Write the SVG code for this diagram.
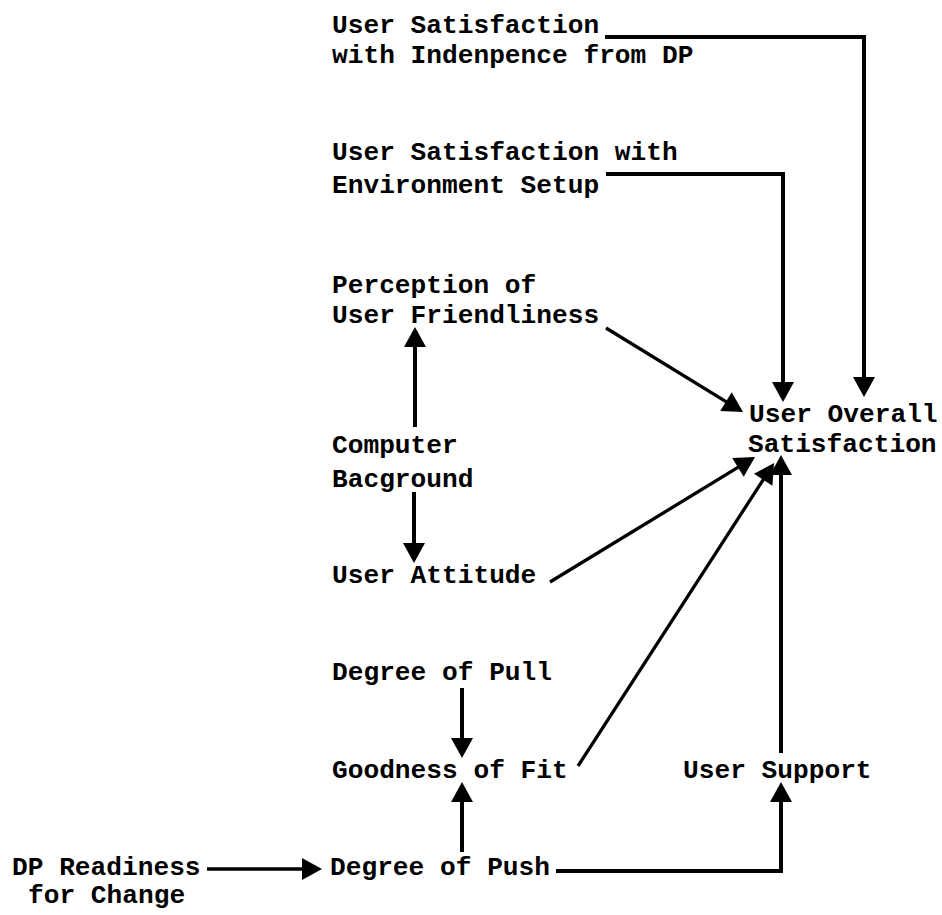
<svg xmlns="http://www.w3.org/2000/svg" width="942" height="915" viewBox="0 0 942 915">
<style>
text{font-family:"Liberation Mono","Courier New",monospace;font-weight:bold;font-size:26.2px;fill:#000}
.c{fill:none;stroke:#000;stroke-width:4;stroke-linejoin:miter}
.t{stroke-width:3.3}
</style>
<defs>
<marker id="ah" markerUnits="userSpaceOnUse" markerWidth="24" markerHeight="24" viewBox="0 0 22 24" refX="12" refY="11" orient="auto">
<path d="M0,0 L20,11 L0,22 z" fill="#000"/>
</marker>
</defs>
<rect width="942" height="915" fill="#fff"/>
<g id="connectors">
<polyline class="c" points="605,37 864,37 864,389" marker-end="url(#ah)"/>
<polyline class="c" points="606,174 783,174 783,394" marker-end="url(#ah)"/>
<line class="c t" x1="606" y1="328" x2="736.2" y2="407.8" marker-end="url(#ah)"/>
<line class="c" x1="415" y1="427" x2="415" y2="335" marker-end="url(#ah)"/>
<line class="c" x1="414" y1="492" x2="414" y2="555" marker-end="url(#ah)"/>
<line class="c t" x1="550" y1="582" x2="748.2" y2="461.2" marker-end="url(#ah)"/>
<line class="c" x1="462" y1="688" x2="462" y2="750" marker-end="url(#ah)"/>
<line class="c" x1="462" y1="852" x2="462" y2="790" marker-end="url(#ah)"/>
<line class="c t" x1="578" y1="766" x2="769.7" y2="469.7" marker-end="url(#ah)"/>
<line class="c" x1="781" y1="753" x2="781" y2="463" marker-end="url(#ah)"/>
<polyline class="c" points="556,871 781,871 781,790" marker-end="url(#ah)"/>
<line class="c t" x1="207" y1="869" x2="314" y2="869" marker-end="url(#ah)"/>
</g>
<g id="n-independence"><text x="332" y="33">User Satisfaction</text><text x="332" y="63">with Indenpence from DP</text></g>
<g id="n-environment"><text x="332" y="160">User Satisfaction with</text><text x="332" y="193">Environment Setup</text></g>
<g id="n-perception"><text x="332" y="293">Perception of</text><text x="332" y="323">User Friendliness</text></g>
<g id="n-background"><text x="332" y="453">Computer</text><text x="332" y="487">Bacground</text></g>
<g id="n-attitude"><text x="332" y="583">User Attitude</text></g>
<g id="n-overall"><text x="749" y="422">User Overall</text><text x="748" y="452">Satisfaction</text></g>
<g id="n-pull"><text x="332" y="680">Degree of Pull</text></g>
<g id="n-fit"><text x="332" y="778">Goodness of Fit</text></g>
<g id="n-support"><text x="683" y="778">User Support</text></g>
<g id="n-readiness"><text x="12" y="875">DP Readiness</text><text x="28" y="903">for Change</text></g>
<g id="n-push"><text x="330" y="875">Degree of Push</text></g>
</svg>
